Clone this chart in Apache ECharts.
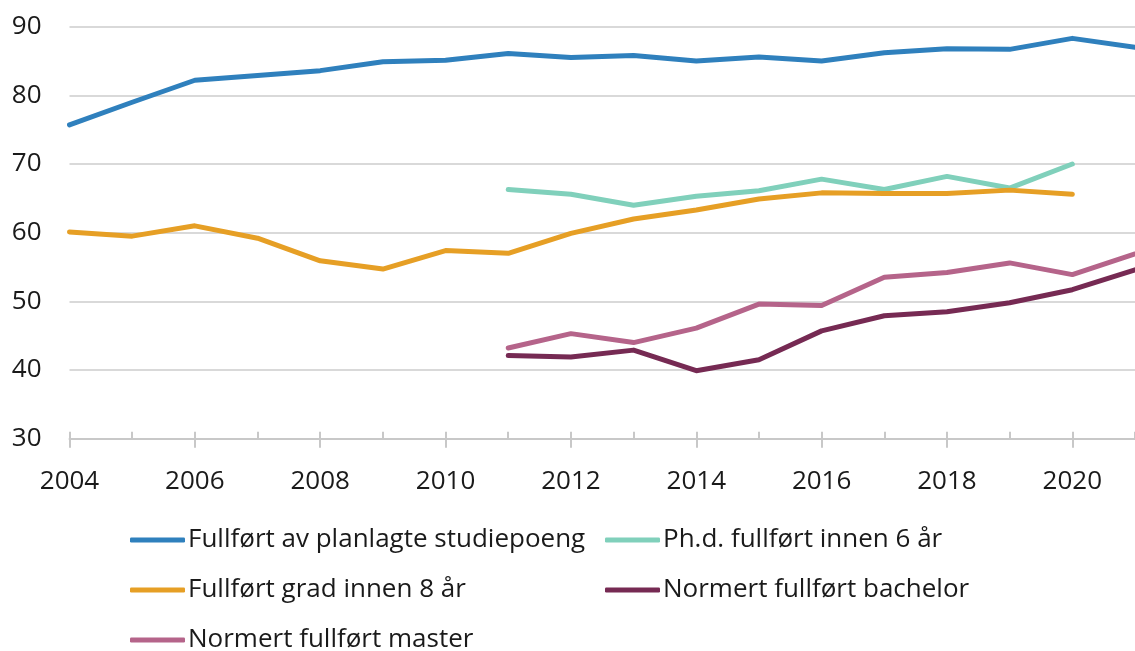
<!DOCTYPE html>
<html>
<head>
<meta charset="utf-8">
<script src="https://cdn.jsdelivr.net/npm/echarts@6/dist/echarts.min.js"></script>
<style>
  html, body { margin: 0; padding: 0; background: #fff; }
  #chart { width: 1135px; height: 651px; }
</style>
</head>
<body>
<div id="chart"></div>
<script>
var years = ['2004', '2005', '2006', '2007', '2008', '2009', '2010', '2011', '2012',
    '2013', '2014', '2015', '2016', '2017', '2018', '2019', '2020', '2021'];

// Fullført av planlagte studiepoeng
var studiepoeng = [75.7, 79.0, 82.2, 82.9, 83.6, 84.9, 85.1, 86.1, 85.5,
    85.8, 85.0, 85.6, 85.0, 86.2, 86.8, 86.7, 88.3, 87.0];
// Ph.d. fullført innen 6 år
var phd = [null, null, null, null, null, null, null, 66.3, 65.6,
    64.0, 65.3, 66.1, 67.8, 66.3, 68.2, 66.5, 70.0, null];
// Fullført grad innen 8 år
var grad8 = [60.1, 59.5, 61.0, 59.2, 55.9, 54.7, 57.4, 57.0, 59.9,
    62.0, 63.3, 64.9, 65.8, 65.7, 65.7, 66.2, 65.6, null];
// Normert fullført bachelor
var bachelor = [null, null, null, null, null, null, null, 42.1, 41.9,
    42.9, 39.9, 41.5, 45.7, 47.9, 48.5, 49.8, 51.7, 54.6];
// Normert fullført master
var master = [null, null, null, null, null, null, null, 43.2, 45.3,
    44.0, 46.1, 49.6, 49.4, 53.5, 54.2, 55.6, 53.9, 56.9];

var fontName = '"Open Sans", sans-serif';

var myChart = echarts.init(document.getElementById('chart'));

function makeLine(name, data, color) {
    return {
        name: name,
        type: 'line',
        data: data,
        symbol: 'none',
        clip: false,
        lineStyle: { width: 5, color: color, join: 'round', cap: 'round' },
        itemStyle: { color: color }
    };
}

// one legend per entry so the two columns line up like the original
function makeLegend(name, left, top) {
    return {
        left: left,
        top: top,
        itemWidth: 55,
        itemHeight: 5,
        icon: 'roundRect',
        textStyle: { fontSize: 26, fontFamily: fontName, color: '#1a1a1a', lineHeight: 30, padding: [0, 0, 0, -2] },
        data: [name]
    };
}

var option = {
    animation: false,
    backgroundColor: '#fff',
    grid: { left: 69.5, right: -3, top: 26.7, bottom: 212.3, containLabel: false },
    legend: [
        makeLegend('Fullført av planlagte studiepoeng', 125, 520),
        makeLegend('Ph.d. fullført innen 6 år', 600, 520),
        makeLegend('Fullført grad innen 8 år', 125, 570),
        makeLegend('Normert fullført bachelor', 600, 570),
        makeLegend('Normert fullført master', 125, 620)
    ],
    xAxis: [{
        type: 'category',
        data: years,
        boundaryGap: false,
        axisLine: { lineStyle: { color: '#c8c8c8', width: 2 } },
        axisTick: { show: true, interval: 0, inside: true, length: 7, lineStyle: { color: '#c8c8c8', width: 2 } },
        axisLabel: { interval: 1, margin: 30, fontSize: 26, fontFamily: fontName, color: '#1a1a1a' },
        splitLine: { show: false }
    }, {
        type: 'category',
        data: years,
        boundaryGap: false,
        position: 'bottom',
        axisLine: { show: false },
        axisTick: { show: true, interval: 1, length: 9, lineStyle: { color: '#c8c8c8', width: 2 } },
        axisLabel: { show: false },
        splitLine: { show: false }
    }],
    yAxis: {
        type: 'value',
        min: 30,
        max: 90,
        interval: 10,
        axisLine: { show: false },
        axisTick: { show: false },
        axisLabel: { margin: 28, fontSize: 26, fontFamily: fontName, color: '#1a1a1a' },
        splitLine: { lineStyle: { color: '#d9d9d9', width: 2 } }
    },
    series: [
        makeLine('Fullført av planlagte studiepoeng', studiepoeng, '#2f80bd'),
        makeLine('Ph.d. fullført innen 6 år', phd, '#80d0bb'),
        makeLine('Fullført grad innen 8 år', grad8, '#e69f25'),
        makeLine('Normert fullført bachelor', bachelor, '#762a53'),
        makeLine('Normert fullført master', master, '#b5648a')
    ]
};

myChart.setOption(option);
</script>
</body>
</html>
